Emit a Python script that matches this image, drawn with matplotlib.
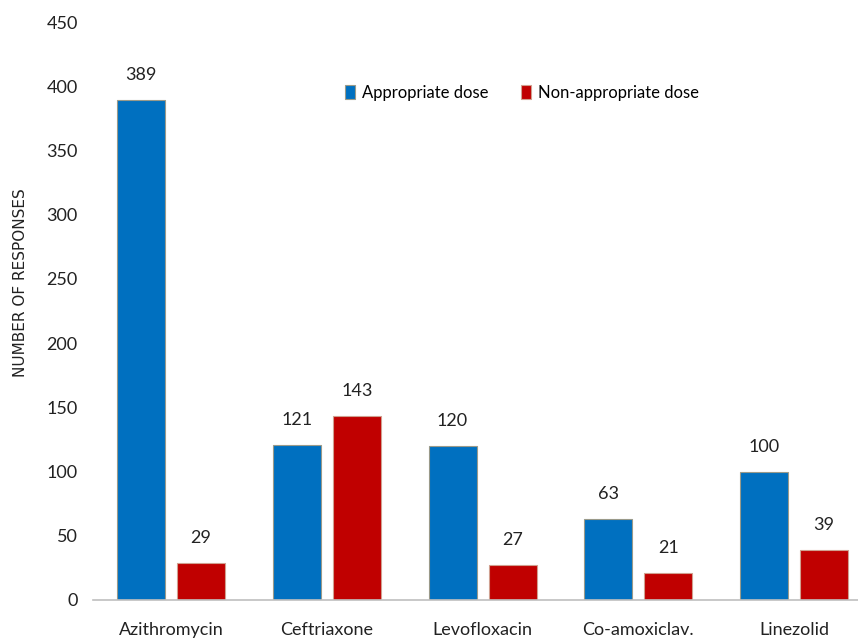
import numpy as np
import matplotlib
matplotlib.use('Agg')
import matplotlib.pyplot as plt

# dose appropriateness per antibiotic
drugs = ['Azithromycin', 'Ceftriaxone', 'Levofloxacin', 'Co-amoxiclav.', 'Linezolid']
appropriate = [389, 121, 120, 63, 100]
non_appropriate = [29, 143, 27, 21, 39]
yticks = [0, 50, 100, 150, 200, 250, 300, 350, 400, 450]

plt.rcParams['font.family'] = ['Lato', 'DejaVu Sans']

fig = plt.figure(figsize=(8.58, 6.4), dpi=100)
ax = fig.add_axes([0.1084, 0.0625, 0.8916, 0.9031])

x = np.arange(len(drugs))
w = 0.308
off = (w + 0.077) / 2

b1 = ax.bar(x - off, appropriate, w, color='#0070C0', edgecolor='#9a9a8a',
            linewidth=0.8, label='Appropriate dose')
b2 = ax.bar(x + off, non_appropriate, w, color='#C00000', edgecolor='#d0a090',
            linewidth=0.8, label='Non-appropriate dose')

for bars, vals in ((b1, appropriate), (b2, non_appropriate)):
    for b, v in zip(bars, vals):
        ax.annotate(str(v), (b.get_x() + b.get_width() / 2, v),
                    xytext=(0, 18), textcoords='offset points',
                    ha='center', va='center', fontsize=13, color='#222222')

ax.set_xlim(-0.5, 4.41)
ax.set_ylim(0, 450)
ax.set_yticks(yticks)
ax.set_xticks(x)
ax.set_xticklabels(drugs)
ax.tick_params(axis='y', length=0, pad=11, labelsize=13, labelcolor='#222222')
ax.tick_params(axis='x', length=0, pad=16, labelsize=13, labelcolor='#222222')

for s in ['top', 'right', 'left']:
    ax.spines[s].set_visible(False)
ax.spines['bottom'].set_color('#bfbfbf')
ax.spines['bottom'].set_linewidth(1.2)

fig.text(0.024, 1 - 283 / 640, 'NUMBER OF RESPONSES', rotation=90,
         ha='center', va='center', fontsize=11, family='DejaVu Sans', color='#222222')

ax.legend(loc='center', bbox_to_anchor=(522 / 858, 1 - 93 / 640),
          bbox_transform=fig.transFigure, ncol=2, frameon=False, fontsize=12,
          handlelength=0.6, handleheight=0.9, handletextpad=0.4, columnspacing=2.0)

fig.savefig('out.png', dpi=100)
